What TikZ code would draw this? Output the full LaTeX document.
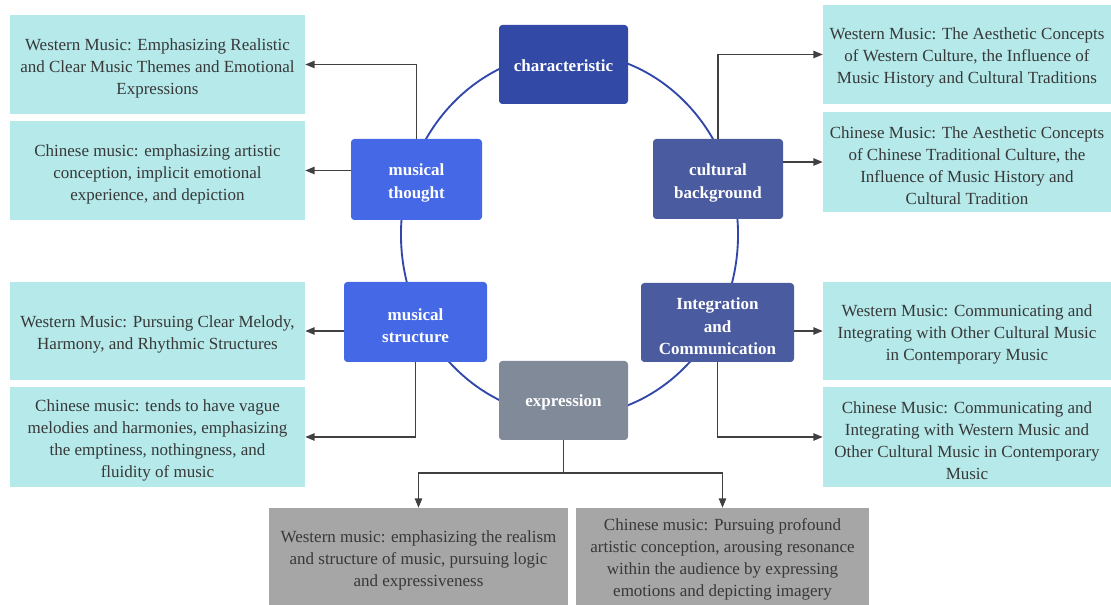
\documentclass[tikz,border=0pt]{standalone}
\usepackage{fontspec}
\setmainfont{Liberation Serif}
\usetikzlibrary{arrows.meta}
\definecolor{charcol}{HTML}{3349A6}
\definecolor{royal}{HTML}{4568E6}
\definecolor{slate}{HTML}{4B5BA0}
\definecolor{exprcol}{HTML}{808A99}
\definecolor{cyanbox}{HTML}{B5E9EA}
\definecolor{graybox}{HTML}{A6A6A6}
\definecolor{txt}{HTML}{383838}
\definecolor{arr}{HTML}{404040}
\definecolor{ellcol}{HTML}{3148AA}
\newcommand{\lpad}{\rule{0pt}{14pt}}
\newcommand{\hpad}{\rule{0pt}{14.5pt}}
\tikzset{
  hub/.style={rounded corners=2.5pt, text=white, align=center, inner sep=0pt,
    font=\fontsize{12.75}{17}\selectfont\bfseries},
  single/.style={execute at begin node={\rule{0pt}{11pt}}},
  leaf/.style={fill=cyanbox, text=txt, align=center, inner sep=0pt,
    font=\fontsize{12.75}{16.5}\selectfont},
  bleaf/.style={leaf, fill=graybox},
  conn/.style={draw=arr, line width=1.1pt, -{Triangle[length=7pt,width=5.5pt]}},
  plainconn/.style={draw=arr, line width=1.1pt}
}
\begin{document}
\begin{tikzpicture}[x=0.75pt,y=-0.75pt]
\useasboundingbox (0,0) rectangle (1111,605);
% ring
\draw[ellcol, line width=1.4pt] (569.5,234.5) ellipse [x radius=126.4pt, y radius=136.5pt];
% hub nodes
\node[hub, single, fill=charcol, minimum width=96.75pt, minimum height=59.25pt] (char) at (563.5,64.5) {characteristic};
\node[hub, fill=royal, minimum width=98.25pt, minimum height=60.75pt] (thought) at (416.5,179.5) {\hpad musical\\thought};
\node[hub, fill=slate, minimum width=97.5pt, minimum height=60pt] (cult) at (718,179) {\hpad cultural\\background};
\node[hub, fill=royal, minimum width=107.25pt, minimum height=60pt] (struct) at (415.5,322) {\hpad musical\\structure};
\node[hub, fill=slate, minimum width=114.75pt, minimum height=59.25pt] (integ) at (717.5,322.5) {\hpad Integration\\and\\Communication};
\node[hub, single, fill=exprcol, minimum width=96.75pt, minimum height=59.25pt] (expr) at (563.5,400.5) {expression};
% left leaves
\node[leaf, minimum width=221.25pt, minimum height=74.25pt] (L1) at (157.5,64.5) {\lpad Western Music: Emphasizing Realistic\\and Clear Music Themes and Emotional\\Expressions};
\node[leaf, minimum width=221.25pt, minimum height=74.25pt] (L2) at (157.5,170.5) {\lpad Chinese music: emphasizing artistic\\conception, implicit emotional\\experience, and depiction};
\node[leaf, minimum width=221.25pt, minimum height=73.5pt] (L3) at (157.5,331) {\lpad Western Music: Pursuing Clear Melody,\\Harmony, and Rhythmic Structures};
\node[leaf, minimum width=221.25pt, minimum height=75pt] (L4) at (157.5,437) {\lpad Chinese music: tends to have vague\\melodies and harmonies, emphasizing\\the emptiness, nothingness, and\\fluidity of music};
% right leaves
\node[leaf, minimum width=216pt, minimum height=74.25pt] (R1) at (967,54.5) {\lpad Western Music: The Aesthetic Concepts\\of Western Culture, the Influence of\\Music History and Cultural Traditions};
\node[leaf, minimum width=216pt, minimum height=75pt] (R2) at (967,162) {\lpad Chinese Music: The Aesthetic Concepts\\of Chinese Traditional Culture, the\\Influence of Music History and\\Cultural Tradition};
\node[leaf, minimum width=216pt, minimum height=73.5pt] (R3) at (967,331) {\lpad Western Music: Communicating and\\Integrating with Other Cultural Music\\in Contemporary Music};
\node[leaf, minimum width=216pt, minimum height=75pt] (R4) at (967,437) {\lpad Chinese Music: Communicating and\\Integrating with Western Music and\\Other Cultural Music in Contemporary\\Music};
% bottom leaves
\node[bleaf, minimum width=224.25pt, minimum height=72.75pt] (B1) at (418.5,556.5) {\lpad Western music: emphasizing the realism\\and structure of music, pursuing logic\\and expressiveness};
\node[bleaf, minimum width=219.75pt, minimum height=72.75pt] (B2) at (722.5,556.5) {\lpad Chinese music: Pursuing profound\\artistic conception, arousing resonance\\within the audience by expressing\\emotions and depicting imagery};
% connectors
\draw[conn] (thought.north) |- (L1.east);
\draw[conn] (thought.west |- L2.east) -- (L2.east);
\draw[conn] (struct.west |- L3.east) -- (L3.east);
\draw[conn] (struct.south) |- (L4.east);
\draw[conn] (cult.north) |- (R1.west);
\draw[conn] (cult.east |- R2.west) -- (R2.west);
\draw[conn] (integ.east |- R3.west) -- (R3.west);
\draw[conn] (integ.south) |- (R4.west);
\coordinate (split) at (563.5,473);
\draw[plainconn] (expr.south) -- (split);
\draw[conn] (split) -| (B1.north);
\draw[conn] (split) -| (B2.north);
\end{tikzpicture}
\end{document}
